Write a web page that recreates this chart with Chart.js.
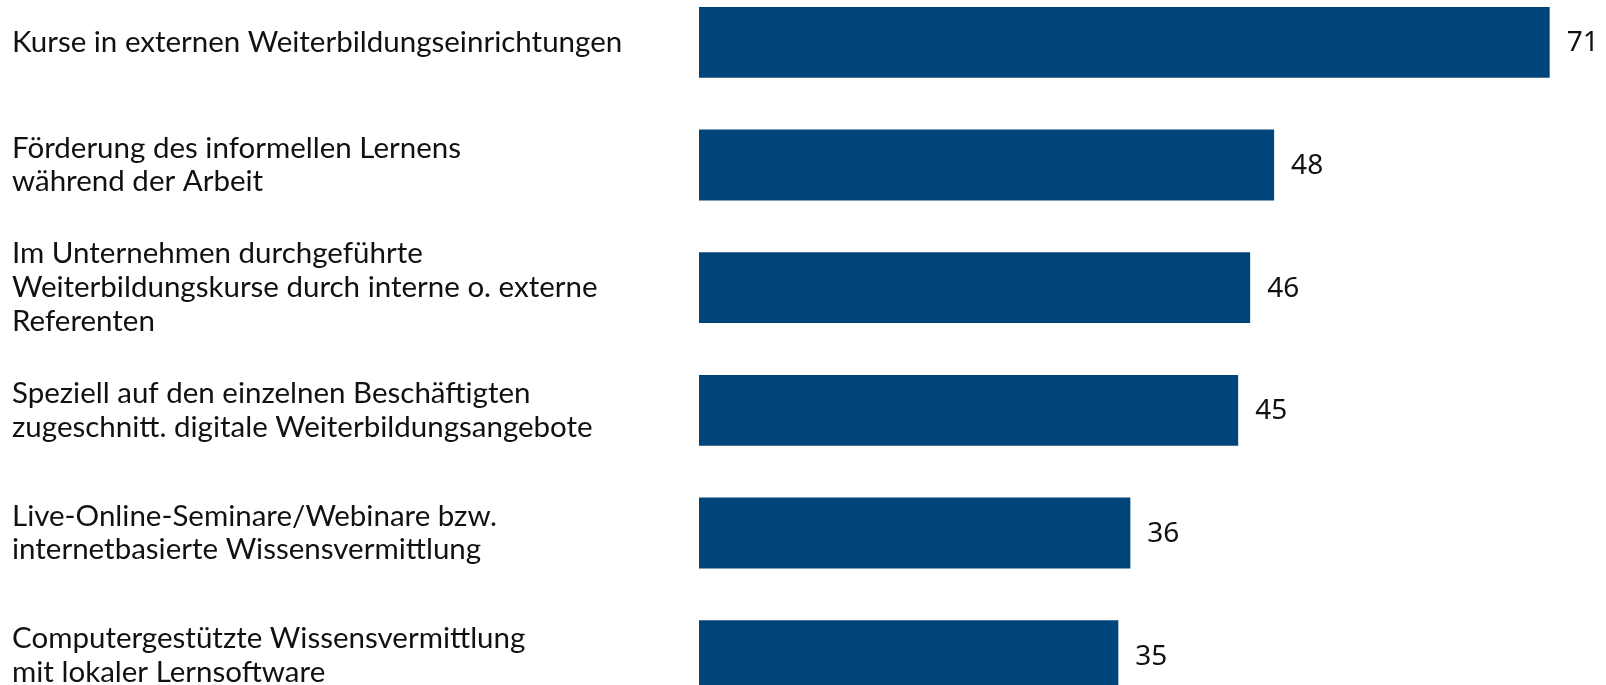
<!DOCTYPE html>
<html>
<head>
<meta charset="utf-8">
<script src="https://cdn.jsdelivr.net/npm/chart.js@4"></script>
<style>
  html, body { margin: 0; padding: 0; background: #fff; overflow: hidden; }
  #wrap { position: absolute; left: 0; top: -18.6px; width: 1606px; height: 736px; }
</style>
</head>
<body>
<div id="wrap"><canvas id="chart"></canvas></div>
<script>
// Kategorien (mehrzeilige Beschriftungen)
var categories = [
  ["Kurse in externen Weiterbildungseinrichtungen"],
  ["Förderung des informellen Lernens", "während der Arbeit"],
  ["Im Unternehmen durchgeführte", "Weiterbildungskurse durch interne o. externe", "Referenten"],
  ["Speziell auf den einzelnen Beschäftigten", "zugeschnitt. digitale Weiterbildungsangebote"],
  ["Live-Online-Seminare/Webinare bzw.", "internetbasierte Wissensvermittlung"],
  ["Computergestützte Wissensvermittlung", "mit lokaler Lernsoftware"]
];

// Werte in Prozent
var values = [71, 48, 46, 45, 36, 35];

var barColor = "#00457a";

// Werte rechts neben die Balken schreiben
var valueLabels = {
  id: "valueLabels",
  afterDatasetsDraw: function (chart) {
    var ctx = chart.ctx;
    var meta = chart.getDatasetMeta(0);
    ctx.save();
    ctx.font = "28px 'Noto Sans'";
    ctx.fillStyle = "#111";
    ctx.textAlign = "left";
    ctx.textBaseline = "middle";
    meta.data.forEach(function (bar, i) {
      ctx.fillText(String(values[i]), bar.x + 17, bar.y + 1);
    });
    ctx.restore();
  }
};

var context = document.querySelector("#chart");

var bar_chart = new Chart(context, {
  type: "bar",
  data: {
    labels: categories,
    datasets: [
      {
        data: values,
        backgroundColor: barColor,
        borderWidth: 0,
        categoryPercentage: 1,
        barPercentage: 0.577
      }
    ]
  },
  options: {
    indexAxis: "y",
    responsive: true,
    maintainAspectRatio: false,
    animation: false,
    layout: { padding: { left: 12, right: 0, top: 0, bottom: 0 } },
    plugins: {
      legend: { display: false },
      tooltip: { enabled: false }
    },
    scales: {
      x: {
        display: false,
        min: 0,
        max: 75.7
      },
      y: {
        grid: { display: false, drawTicks: false },
        border: { display: false },
        afterFit: function (scale) {
          scale.width = 687;
          // keine Extra-Abstände für die mehrzeiligen Beschriftungen
          scale.paddingTop = 0;
          scale.paddingBottom = 0;
        },
        ticks: {
          crossAlign: "far",
          padding: 0,
          color: "#111",
          font: { family: "Lato", size: 29.5, lineHeight: 1.15 }
        }
      }
    }
  },
  plugins: [valueLabels]
});
</script>
</body>
</html>
